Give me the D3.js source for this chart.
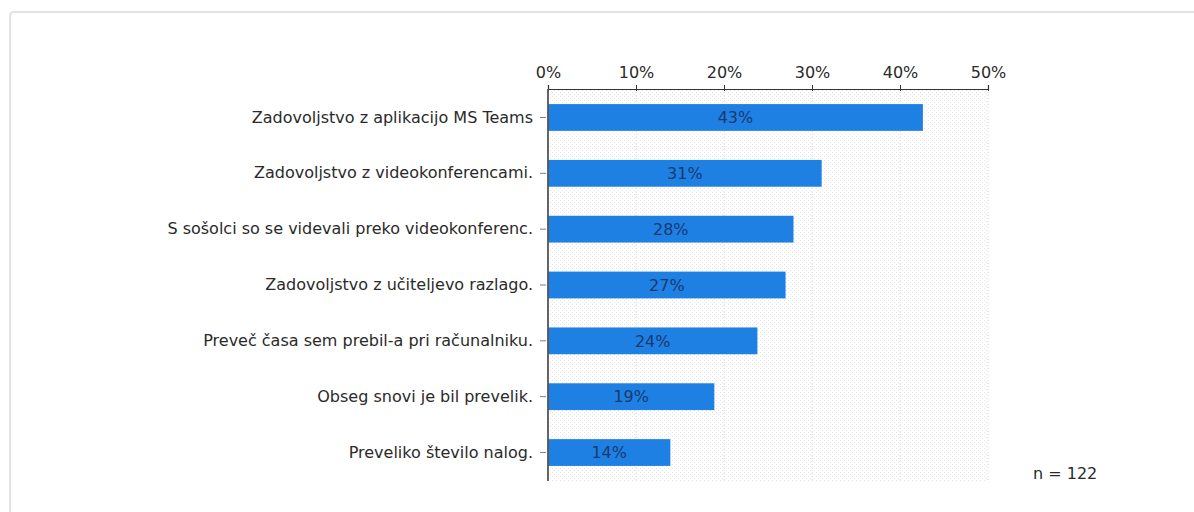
<!DOCTYPE html>
<html><head><meta charset="utf-8">
<script src="https://cdn.jsdelivr.net/npm/d3@7"></script>
<style>body{margin:0;background:#fff;}svg{display:block;font-family:"DejaVu Sans",Verdana,sans-serif;}</style>
</head><body>
<script>
const categories = [
  "Zadovoljstvo z aplikacijo MS Teams",
  "Zadovoljstvo z videokonferencami.",
  "S sošolci so se videvali preko videokonferenc.",
  "Zadovoljstvo z učiteljevo razlago.",
  "Preveč časa sem prebil-a pri računalniku.",
  "Obseg snovi je bil prevelik.",
  "Preveliko število nalog."
];
const values = [42.6, 31.1, 27.9, 27.0, 23.8, 18.9, 13.9];
const valueLabels = ["43%", "31%", "28%", "27%", "24%", "19%", "14%"];
const xTicks = [0, 10, 20, 30, 40, 50];
const note = "n = 122";

(function(){
const W = 1194, H = 512;
const FONT = "\"DejaVu Sans\",Verdana,sans-serif";
const svg = d3.select("body").append("svg").attr("width", W).attr("height", H);

const defs = svg.append("defs");
const pat = defs.append("pattern").attr("id","hatch").attr("patternUnits","userSpaceOnUse")
  .attr("width",4).attr("height",4);
pat.append("rect").attr("width",4).attr("height",4).attr("fill","#ffffff");
pat.append("rect").attr("x",0).attr("y",0).attr("width",1).attr("height",1).attr("fill","#e8e8e8");
pat.append("rect").attr("x",2).attr("y",2).attr("width",1).attr("height",1).attr("fill","#e8e8e8");

svg.append("path").attr("d", `M10,${H} L10,16 Q10,12 14,12 L${W},12`)
  .attr("fill","none").attr("stroke","#e2e2e2").attr("stroke-width",2);

const pL = 548, pR = 988, pT = 89, pB = 481;
const x = d3.scaleLinear().domain([0, 50]).range([pL, pR]);
const y = d3.scaleBand().domain(categories).range([pT, pB]).paddingInner(0.52).paddingOuter(0.27);

svg.append("rect").attr("x",pL).attr("y",pT).attr("width",pR-pL).attr("height",pB-pT)
  .attr("fill","url(#hatch)");

svg.append("g").selectAll("line").data(xTicks.slice(1)).join("line")
  .attr("x1",d=>x(d)).attr("x2",d=>x(d)).attr("y1",pT).attr("y2",pB)
  .attr("stroke","#dadada").attr("stroke-dasharray","1,2");

svg.append("g").selectAll("rect").data(values).join("rect")
  .attr("x", x(0)).attr("y", (d,i)=>y(categories[i]))
  .attr("width", d=>x(d)-x(0)).attr("height", y.bandwidth())
  .attr("fill","#1f80e4");

svg.append("g").selectAll("text").data(values).join("text")
  .attr("x", d=>(x(0)+x(d))/2).attr("y",(d,i)=>y(categories[i])+y.bandwidth()/2)
  .attr("dy","0.36em").attr("text-anchor","middle")
  .attr("font-size",16).attr("fill","#173a6e")
  .text((d,i)=>valueLabels[i]);

const xAxis = d3.axisTop(x).tickValues(xTicks).tickFormat(d=>d+"%").tickSize(4).tickSizeOuter(4);
const gx = svg.append("g").attr("transform",`translate(0,${pT})`).call(xAxis);
gx.select(".domain").attr("stroke","#333").attr("stroke-width",1.2);
gx.selectAll(".tick line").attr("stroke","#333").attr("y2",-4).attr("y1",2);
gx.selectAll(".tick text").attr("font-size",16).attr("fill","#2a2a2a")
  .attr("font-family",FONT).attr("y",-11);

const yAxis = d3.axisLeft(y).tickSize(8).tickSizeOuter(0).tickPadding(7);
const gy = svg.append("g").attr("transform",`translate(${pL},0)`).call(yAxis);
gy.select(".domain").attr("stroke","#555").attr("stroke-width",1.8)
  .attr("d", `M0,${pT}V${pB}`);
gy.selectAll(".tick line").attr("stroke","#7a7aa0").attr("x2",-8).attr("x1",-2);
gy.selectAll(".tick text").attr("font-size",16).attr("fill","#2a2a2a")
  .attr("font-family",FONT);

svg.append("text").attr("x",1033).attr("y",479).attr("text-anchor","start")
  .attr("font-size",16).attr("fill","#2a2a2a").text(note);
})();
</script>
</body></html>
